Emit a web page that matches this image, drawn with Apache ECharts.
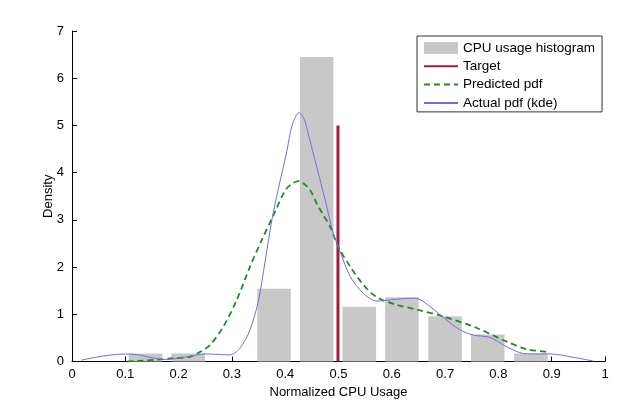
<!DOCTYPE html>
<html>
<head>
<meta charset="utf-8">
<script src="https://cdn.jsdelivr.net/npm/echarts@6/dist/echarts.min.js"></script>
<style>
  html, body { margin: 0; padding: 0; background: #fff; }
  #chart { width: 623px; height: 402px; }
</style>
</head>
<body>
<div id="chart"></div>
<script>
// histogram bins (centre, density)
const binCenters = [0.138, 0.218, 0.379, 0.459, 0.539, 0.619, 0.700, 0.780, 0.861];
const binHeights = [0.17, 0.17, 1.54, 6.45, 1.16, 1.36, 0.96, 0.57, 0.17];

// target line
const targetX = 0.499;
const targetTop = 5;

// predicted pdf (dashed green)
const predX = [0.104, 0.134, 0.16, 0.19, 0.221, 0.24, 0.259, 0.284, 0.309, 0.334, 0.356, 0.378, 0.4, 0.413, 0.425, 0.44, 0.447, 0.459, 0.47, 0.484, 0.5, 0.522, 0.547, 0.572, 0.609, 0.647, 0.697, 0.753, 0.816, 0.853, 0.897];
const predY = [0.0, 0.02, 0.04, 0.07, 0.10, 0.2, 0.35, 0.74, 1.3, 2.01, 2.57, 3.1, 3.62, 3.77, 3.82, 3.72, 3.63, 3.35, 3.13, 2.86, 2.42, 2.01, 1.62, 1.36, 1.2, 1.1, 0.95, 0.74, 0.42, 0.26, 0.2];

// actual pdf (kde, blue)
const kdeX = [0.018, 0.045, 0.075, 0.1, 0.125, 0.15, 0.175, 0.2, 0.225, 0.25, 0.275, 0.296, 0.315, 0.334, 0.35, 0.362, 0.375, 0.387, 0.403, 0.413, 0.426, 0.436, 0.443, 0.459, 0.475, 0.49, 0.5, 0.522, 0.547, 0.572, 0.609, 0.644, 0.672, 0.697, 0.728, 0.753, 0.784, 0.816, 0.847, 0.878, 0.897, 0.94, 0.978];
const kdeY = [0.03, 0.09, 0.14, 0.16, 0.14, 0.08, 0.04, 0.07, 0.12, 0.16, 0.15, 0.14, 0.28, 0.67, 1.3, 2.1, 3.0, 3.65, 4.45, 5.0, 5.27, 5.12, 4.83, 4.13, 3.42, 2.72, 2.42, 1.8, 1.44, 1.28, 1.32, 1.34, 1.16, 0.93, 0.67, 0.56, 0.51, 0.31, 0.17, 0.16, 0.16, 0.09, 0.01];

const BAR_W = 0.063; // bar width in data units
const FONT = '"Liberation Sans", Arial, sans-serif';

const zip = (xs, ys) => xs.map((x, i) => [x, ys[i]]);

const chart = echarts.init(document.getElementById('chart'), null, { renderer: 'canvas' });

const axisCommon = {
  axisLine: { show: true, lineStyle: { color: '#000', width: 1 } },
  axisTick: { show: true, inside: true, length: 5, lineStyle: { color: '#000' } },
  splitLine: { show: false },
  axisLabel: { color: '#000', fontSize: 13, fontFamily: FONT },
  nameTextStyle: { color: '#000', fontSize: 13, fontFamily: FONT },
  nameMoveOverlap: false
};

// hide the round marker that line series put in the legend
const noMarker = { opacity: 0 };

const option = {
  animation: false,
  backgroundColor: '#fff',
  grid: { left: 72, right: 18, top: 31, bottom: 40.5, outerBoundsMode: 'none' },
  legend: {
    orient: 'vertical',
    left: 417,
    top: 36,
    padding: [5, 7, 2, 6],
    borderColor: '#333',
    borderWidth: 1,
    itemWidth: 34,
    itemHeight: 12,
    itemGap: 4.3,
    textStyle: { color: '#000', fontSize: 13.5, fontFamily: FONT },
    data: [
      { name: 'CPU usage histogram', icon: 'rect' },
      { name: 'Target', itemStyle: noMarker },
      { name: 'Predicted pdf', itemStyle: noMarker },
      { name: 'Actual pdf (kde)', itemStyle: noMarker }
    ]
  },
  xAxis: {
    ...axisCommon,
    type: 'value',
    min: 0,
    max: 1,
    interval: 0.1,
    name: 'Normalized CPU Usage',
    nameLocation: 'middle',
    nameGap: 24,
    axisLabel: { ...axisCommon.axisLabel, margin: 6 }
  },
  yAxis: {
    ...axisCommon,
    type: 'value',
    min: 0,
    max: 7,
    interval: 1,
    name: 'Density',
    nameLocation: 'middle',
    nameGap: 17,
    axisLabel: { ...axisCommon.axisLabel, margin: 8 }
  },
  series: [
    {
      name: 'CPU usage histogram',
      type: 'custom',
      itemStyle: { color: '#c8c8c8' },
      data: zip(binCenters, binHeights),
      encode: { x: 0, y: 1 },
      renderItem: function (params, api) {
        const c = api.value(0);
        const h = api.value(1);
        const p0 = api.coord([c - BAR_W / 2, h]);
        const p1 = api.coord([c + BAR_W / 2, 0]);
        return {
          type: 'rect',
          shape: { x: p0[0], y: p0[1], width: p1[0] - p0[0], height: p1[1] - p0[1] },
          style: { fill: '#c8c8c8' }
        };
      }
    },
    {
      name: 'Target',
      type: 'line',
      symbol: 'none',
      data: [[targetX, 0], [targetX, targetTop]],
      lineStyle: { color: '#a01c3c', width: 3 },
      itemStyle: { color: '#a01c3c' }
    },
    {
      name: 'Predicted pdf',
      type: 'line',
      symbol: 'none',
      smooth: 0.3,
      data: zip(predX, predY),
      lineStyle: { color: '#228b22', width: 1.8, type: [6, 4] },
      itemStyle: { color: '#228b22' }
    },
    {
      name: 'Actual pdf (kde)',
      type: 'line',
      symbol: 'none',
      smooth: 0.3,
      data: zip(kdeX, kdeY),
      lineStyle: { color: '#6e6ee6', width: 1 },
      itemStyle: { color: '#6e6ee6' }
    }
  ]
};

chart.setOption(option);
</script>
</body>
</html>
